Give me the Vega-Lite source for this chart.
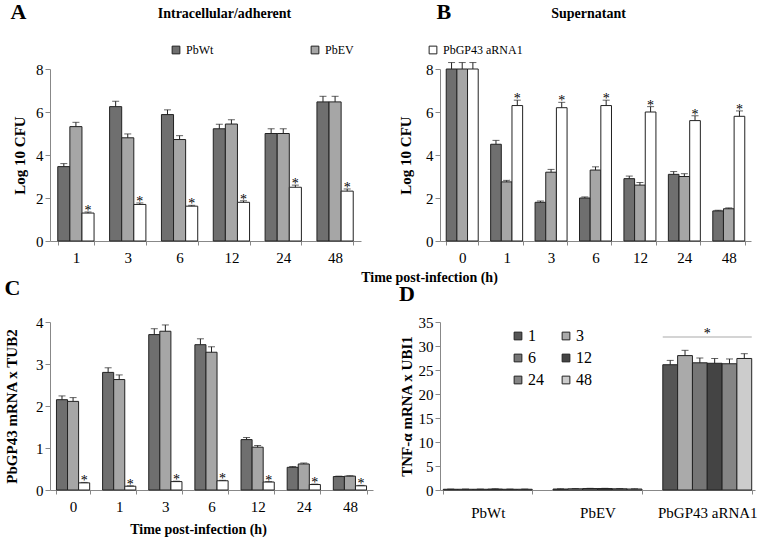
{
  "$schema": "https://vega.github.io/schema/vega-lite/v6.json",
  "padding": {"left": 4, "top": 1, "right": 5, "bottom": 5},
  "background": "#ffffff",
  "config": {
    "font": "Liberation Serif",
    "view": {"stroke": null},
    "axis": {"labelFont": "Liberation Serif", "labelFontSize": 15, "labelColor": "#000", "titleFont": "Liberation Serif", "titleFontSize": 15, "titleFontWeight": "bold", "titleColor": "#000", "grid": false, "domainColor": "#888", "tickColor": "#888", "tickSize": 5},
    "axisX": {"labelAngle": 0, "tickBand": "extent", "labelPadding": 5, "tickSize": 4},
    "axisY": {"labelOverlap": false, "tickCount": 8},
    "legend": {"labelFont": "Liberation Serif", "labelColor": "#000", "symbolType": "square", "symbolStrokeColor": "#222", "symbolStrokeWidth": 1, "title": null},
    "title": {"font": "Liberation Serif", "fontWeight": "bold", "color": "#000", "fontSize": 22}
  },
  "datasets": {
    "A": [
      {"t": "1", "s": "PbWt", "v": 3.46, "e": 3.6, "sig": ""},
      {"t": "1", "s": "PbEV", "v": 5.32, "e": 5.52, "sig": ""},
      {"t": "1", "s": "PbGP43 aRNA1", "v": 1.3, "e": 1.35, "sig": "*"},
      {"t": "3", "s": "PbWt", "v": 6.25, "e": 6.5, "sig": ""},
      {"t": "3", "s": "PbEV", "v": 4.8, "e": 4.98, "sig": ""},
      {"t": "3", "s": "PbGP43 aRNA1", "v": 1.7, "e": 1.77, "sig": "*"},
      {"t": "6", "s": "PbWt", "v": 5.88, "e": 6.1, "sig": ""},
      {"t": "6", "s": "PbEV", "v": 4.72, "e": 4.9, "sig": ""},
      {"t": "6", "s": "PbGP43 aRNA1", "v": 1.62, "e": 1.66, "sig": "*"},
      {"t": "12", "s": "PbWt", "v": 5.22, "e": 5.43, "sig": ""},
      {"t": "12", "s": "PbEV", "v": 5.44, "e": 5.64, "sig": ""},
      {"t": "12", "s": "PbGP43 aRNA1", "v": 1.8, "e": 1.87, "sig": "*"},
      {"t": "24", "s": "PbWt", "v": 5.0, "e": 5.22, "sig": ""},
      {"t": "24", "s": "PbEV", "v": 5.0, "e": 5.22, "sig": ""},
      {"t": "24", "s": "PbGP43 aRNA1", "v": 2.5, "e": 2.6, "sig": "*"},
      {"t": "48", "s": "PbWt", "v": 6.47, "e": 6.73, "sig": ""},
      {"t": "48", "s": "PbEV", "v": 6.47, "e": 6.73, "sig": ""},
      {"t": "48", "s": "PbGP43 aRNA1", "v": 2.32, "e": 2.42, "sig": "*"}
    ],
    "B": [
      {"t": "0", "s": "PbWt", "v": 8.0, "e": 8.3, "sig": ""},
      {"t": "0", "s": "PbEV", "v": 8.0, "e": 8.3, "sig": ""},
      {"t": "0", "s": "PbGP43 aRNA1", "v": 8.0, "e": 8.3, "sig": ""},
      {"t": "1", "s": "PbWt", "v": 4.5, "e": 4.68, "sig": ""},
      {"t": "1", "s": "PbEV", "v": 2.75, "e": 2.82, "sig": ""},
      {"t": "1", "s": "PbGP43 aRNA1", "v": 6.3, "e": 6.55, "sig": "*"},
      {"t": "3", "s": "PbWt", "v": 1.8, "e": 1.86, "sig": ""},
      {"t": "3", "s": "PbEV", "v": 3.2, "e": 3.33, "sig": ""},
      {"t": "3", "s": "PbGP43 aRNA1", "v": 6.2, "e": 6.45, "sig": "*"},
      {"t": "6", "s": "PbWt", "v": 2.0, "e": 2.05, "sig": ""},
      {"t": "6", "s": "PbEV", "v": 3.3, "e": 3.45, "sig": ""},
      {"t": "6", "s": "PbGP43 aRNA1", "v": 6.3, "e": 6.55, "sig": "*"},
      {"t": "12", "s": "PbWt", "v": 2.9, "e": 3.02, "sig": ""},
      {"t": "12", "s": "PbEV", "v": 2.6, "e": 2.72, "sig": ""},
      {"t": "12", "s": "PbGP43 aRNA1", "v": 6.0, "e": 6.25, "sig": "*"},
      {"t": "24", "s": "PbWt", "v": 3.1, "e": 3.23, "sig": ""},
      {"t": "24", "s": "PbEV", "v": 3.0, "e": 3.13, "sig": ""},
      {"t": "24", "s": "PbGP43 aRNA1", "v": 5.6, "e": 5.82, "sig": "*"},
      {"t": "48", "s": "PbWt", "v": 1.4, "e": 1.43, "sig": ""},
      {"t": "48", "s": "PbEV", "v": 1.5, "e": 1.54, "sig": ""},
      {"t": "48", "s": "PbGP43 aRNA1", "v": 5.8, "e": 6.05, "sig": "*"}
    ],
    "C": [
      {"t": "0", "s": "PbWt", "v": 2.15, "e": 2.24, "sig": ""},
      {"t": "0", "s": "PbEV", "v": 2.11, "e": 2.2, "sig": ""},
      {"t": "0", "s": "PbGP43 aRNA1", "v": 0.17, "e": 0.18, "sig": "*"},
      {"t": "1", "s": "PbWt", "v": 2.8, "e": 2.91, "sig": ""},
      {"t": "1", "s": "PbEV", "v": 2.63, "e": 2.74, "sig": ""},
      {"t": "1", "s": "PbGP43 aRNA1", "v": 0.09, "e": 0.1, "sig": "*"},
      {"t": "3", "s": "PbWt", "v": 3.7, "e": 3.84, "sig": ""},
      {"t": "3", "s": "PbEV", "v": 3.78, "e": 3.93, "sig": ""},
      {"t": "3", "s": "PbGP43 aRNA1", "v": 0.2, "e": 0.21, "sig": "*"},
      {"t": "6", "s": "PbWt", "v": 3.46, "e": 3.6, "sig": ""},
      {"t": "6", "s": "PbEV", "v": 3.28, "e": 3.41, "sig": ""},
      {"t": "6", "s": "PbGP43 aRNA1", "v": 0.22, "e": 0.23, "sig": "*"},
      {"t": "12", "s": "PbWt", "v": 1.2, "e": 1.25, "sig": ""},
      {"t": "12", "s": "PbEV", "v": 1.02, "e": 1.06, "sig": ""},
      {"t": "12", "s": "PbGP43 aRNA1", "v": 0.19, "e": 0.2, "sig": "*"},
      {"t": "24", "s": "PbWt", "v": 0.54, "e": 0.56, "sig": ""},
      {"t": "24", "s": "PbEV", "v": 0.62, "e": 0.64, "sig": ""},
      {"t": "24", "s": "PbGP43 aRNA1", "v": 0.13, "e": 0.14, "sig": "*"},
      {"t": "48", "s": "PbWt", "v": 0.32, "e": 0.33, "sig": ""},
      {"t": "48", "s": "PbEV", "v": 0.33, "e": 0.34, "sig": ""},
      {"t": "48", "s": "PbGP43 aRNA1", "v": 0.1, "e": 0.11, "sig": "*"}
    ],
    "D": [
      {"g": "PbWt", "t": "1", "v": 0.15, "e": 0.2},
      {"g": "PbWt", "t": "3", "v": 0.15, "e": 0.2},
      {"g": "PbWt", "t": "6", "v": 0.15, "e": 0.2},
      {"g": "PbWt", "t": "12", "v": 0.2, "e": 0.25},
      {"g": "PbWt", "t": "24", "v": 0.15, "e": 0.2},
      {"g": "PbWt", "t": "48", "v": 0.15, "e": 0.2},
      {"g": "PbEV", "t": "1", "v": 0.2, "e": 0.25},
      {"g": "PbEV", "t": "3", "v": 0.25, "e": 0.3},
      {"g": "PbEV", "t": "6", "v": 0.3, "e": 0.35},
      {"g": "PbEV", "t": "12", "v": 0.3, "e": 0.35},
      {"g": "PbEV", "t": "24", "v": 0.25, "e": 0.3},
      {"g": "PbEV", "t": "48", "v": 0.2, "e": 0.25},
      {"g": "PbGP43 aRNA1", "t": "1", "v": 26.1, "e": 27.0},
      {"g": "PbGP43 aRNA1", "t": "3", "v": 28.0, "e": 29.1},
      {"g": "PbGP43 aRNA1", "t": "6", "v": 26.5, "e": 27.5},
      {"g": "PbGP43 aRNA1", "t": "12", "v": 26.4, "e": 27.4},
      {"g": "PbGP43 aRNA1", "t": "24", "v": 26.3, "e": 27.3},
      {"g": "PbGP43 aRNA1", "t": "48", "v": 27.4, "e": 28.4}
    ],
    "Dsig": [
      {"g": "PbGP43 aRNA1", "y": 31.9, "star": "*"}
    ]
  },
  "columns": 2,
  "bounds": "flush",
  "spacing": {"row": 81, "column": 67},
  "resolve": {"scale": {"color": "independent", "x": "independent", "y": "independent", "xOffset": "independent"}, "legend": {"color": "independent"}},
  "concat": [
    {
      "width": 311,
      "height": 172,
      "data": {"name": "A"},
      "title": {"text": "A", "anchor": "start", "frame": "bounds", "offset": -18, "dx": -2},
      "resolve": {"axis": {"x": "independent"}},
      "layer": [
        {
          "mark": {"type": "bar", "stroke": "#222", "strokeWidth": 1},
          "encoding": {
            "x": {"field": "t", "type": "ordinal", "sort": ["1", "3", "6", "12", "24", "48"], "scale": {"paddingInner": 0.3, "paddingOuter": 0.15}, "axis": {"title": "Time post-infection (h)", "titleX": 379, "titleFontSize": 14, "titlePadding": 5}},
            "xOffset": {"field": "s", "type": "nominal", "sort": ["PbWt", "PbEV", "PbGP43 aRNA1"], "scale": {"paddingInner": 0, "paddingOuter": 0}},
            "y": {"field": "v", "type": "quantitative", "scale": {"domain": [0, 8]}, "axis": {"title": "Log 10 CFU", "values": [0, 1, 2, 3, 4, 5, 6, 7, 8], "titlePadding": 8}},
            "color": {"field": "s", "type": "nominal", "scale": {"domain": ["PbWt", "PbEV", "PbGP43 aRNA1"], "range": ["#6f6f6f", "#a6a6a6", "#ffffff"]}, "legend": {"values": ["PbWt", "PbEV"], "orient": "none", "legendX": 120, "legendY": -25, "direction": "horizontal", "columnPadding": 95, "labelFontSize": 12, "symbolSize": 60}}
          }
        },
        {
          "mark": {"type": "rule", "color": "#222"},
          "encoding": {
            "x": {"field": "t", "type": "ordinal", "sort": ["1", "3", "6", "12", "24", "48"], "axis": {"orient": "top", "labels": false, "ticks": false, "domain": false, "title": "Intracellular/adherent", "titleFontSize": 14, "titleX": 174, "titleY": -49}},
            "xOffset": {"field": "s", "type": "nominal", "sort": ["PbWt", "PbEV", "PbGP43 aRNA1"]},
            "y": {"field": "v", "type": "quantitative"},
            "y2": {"field": "e"}
          }
        },
        {
          "mark": {"type": "tick", "orient": "horizontal", "size": 7, "thickness": 1, "color": "#222"},
          "encoding": {
            "x": {"field": "t", "type": "ordinal", "sort": ["1", "3", "6", "12", "24", "48"], "axis": null},
            "xOffset": {"field": "s", "type": "nominal", "sort": ["PbWt", "PbEV", "PbGP43 aRNA1"]},
            "y": {"field": "e", "type": "quantitative"}
          }
        },
        {
          "mark": {"type": "text", "fontSize": 14, "baseline": "alphabetic", "dy": 3, "color": "#000"},
          "encoding": {
            "x": {"field": "t", "type": "ordinal", "sort": ["1", "3", "6", "12", "24", "48"], "axis": null},
            "xOffset": {"field": "s", "type": "nominal", "sort": ["PbWt", "PbEV", "PbGP43 aRNA1"]},
            "y": {"field": "e", "type": "quantitative"},
            "text": {"field": "sig"}
          }
        }
      ]
    },
    {
      "width": 311,
      "height": 172,
      "data": {"name": "B"},
      "title": {"text": "B", "anchor": "start", "frame": "bounds", "offset": -18, "dx": 38},
      "resolve": {"axis": {"x": "independent"}},
      "layer": [
        {
          "mark": {"type": "bar", "stroke": "#222", "strokeWidth": 1},
          "encoding": {
            "x": {"field": "t", "type": "ordinal", "sort": ["0", "1", "3", "6", "12", "24", "48"], "scale": {"paddingInner": 0.28, "paddingOuter": 0.14}, "axis": {"title": null}},
            "xOffset": {"field": "s", "type": "nominal", "sort": ["PbWt", "PbEV", "PbGP43 aRNA1"], "scale": {"paddingInner": 0, "paddingOuter": 0}},
            "y": {"field": "v", "type": "quantitative", "scale": {"domain": [0, 8]}, "axis": {"title": "Log 10 CFU", "values": [0, 1, 2, 3, 4, 5, 6, 7, 8], "titlePadding": 12}},
            "color": {"field": "s", "type": "nominal", "scale": {"domain": ["PbWt", "PbEV", "PbGP43 aRNA1"], "range": ["#6f6f6f", "#a6a6a6", "#ffffff"]}, "legend": {"values": ["PbGP43 aRNA1"], "orient": "none", "legendX": -13, "legendY": -25, "direction": "horizontal", "labelFontSize": 12, "symbolSize": 60}}
          }
        },
        {
          "mark": {"type": "rule", "color": "#222"},
          "encoding": {
            "x": {"field": "t", "type": "ordinal", "sort": ["0", "1", "3", "6", "12", "24", "48"], "axis": {"orient": "top", "labels": false, "ticks": false, "domain": false, "title": "Supernatant", "titleFontSize": 14, "titleX": 148, "titleY": -49}},
            "xOffset": {"field": "s", "type": "nominal", "sort": ["PbWt", "PbEV", "PbGP43 aRNA1"]},
            "y": {"field": "v", "type": "quantitative"},
            "y2": {"field": "e"}
          }
        },
        {
          "mark": {"type": "tick", "orient": "horizontal", "size": 7, "thickness": 1, "color": "#222"},
          "encoding": {
            "x": {"field": "t", "type": "ordinal", "sort": ["0", "1", "3", "6", "12", "24", "48"], "axis": null},
            "xOffset": {"field": "s", "type": "nominal", "sort": ["PbWt", "PbEV", "PbGP43 aRNA1"]},
            "y": {"field": "e", "type": "quantitative"}
          }
        },
        {
          "mark": {"type": "text", "fontSize": 14, "baseline": "alphabetic", "dy": 3, "color": "#000"},
          "encoding": {
            "x": {"field": "t", "type": "ordinal", "sort": ["0", "1", "3", "6", "12", "24", "48"], "axis": null},
            "xOffset": {"field": "s", "type": "nominal", "sort": ["PbWt", "PbEV", "PbGP43 aRNA1"]},
            "y": {"field": "e", "type": "quantitative"},
            "text": {"field": "sig"}
          }
        }
      ]
    },
    {
      "width": 323,
      "height": 168,
      "data": {"name": "C"},
      "title": {"text": "C", "anchor": "start", "frame": "bounds", "offset": 15},
      "encoding": {
        "x": {"field": "t", "type": "ordinal", "sort": ["0", "1", "3", "6", "12", "24", "48"], "scale": {"paddingInner": 0.28, "paddingOuter": 0.14}, "axis": {"title": "Time post-infection (h)", "titleFontSize": 14, "titleX": 148, "titlePadding": 8}},
        "xOffset": {"field": "s", "type": "nominal", "sort": ["PbWt", "PbEV", "PbGP43 aRNA1"], "scale": {"paddingInner": 0, "paddingOuter": 0}}
      },
      "layer": [
        {
          "mark": {"type": "bar", "stroke": "#222", "strokeWidth": 1},
          "encoding": {
            "y": {"field": "v", "type": "quantitative", "scale": {"domain": [0, 4]}, "axis": {"title": "PbGP43 mRNA x TUB2", "values": [0, 0.5, 1, 1.5, 2, 2.5, 3, 3.5, 4], "labelExpr": "'' + datum.value", "titlePadding": 16}},
            "color": {"field": "s", "type": "nominal", "scale": {"domain": ["PbWt", "PbEV", "PbGP43 aRNA1"], "range": ["#6f6f6f", "#a6a6a6", "#ffffff"]}, "legend": null}
          }
        },
        {"mark": {"type": "rule", "color": "#222"}, "encoding": {"y": {"field": "v", "type": "quantitative"}, "y2": {"field": "e"}}},
        {"mark": {"type": "tick", "orient": "horizontal", "size": 7, "thickness": 1, "color": "#222"}, "encoding": {"y": {"field": "e", "type": "quantitative"}}},
        {"mark": {"type": "text", "fontSize": 14, "baseline": "alphabetic", "dy": 3, "color": "#000"}, "encoding": {"y": {"field": "e", "type": "quantitative"}, "text": {"field": "sig"}}}
      ]
    },
    {
      "width": 315,
      "height": 168,
      "title": {"text": "D", "anchor": "start", "frame": "bounds", "offset": 9},
      "layer": [
        {
          "data": {"name": "D"},
          "mark": {"type": "bar", "stroke": "#222", "strokeWidth": 1},
          "encoding": {
            "x": {"field": "g", "type": "nominal", "sort": ["PbWt", "PbEV", "PbGP43 aRNA1"], "scale": {"paddingInner": 0.19, "paddingOuter": 0.03}, "axis": {"title": null, "labelPadding": 11}},
            "xOffset": {"field": "t", "type": "nominal", "sort": ["1", "3", "6", "12", "24", "48"], "scale": {"paddingInner": 0, "paddingOuter": 0}},
            "y": {"field": "v", "type": "quantitative", "scale": {"domain": [0, 35]}, "axis": {"title": "TNF-α mRNA x UBI1", "values": [0, 5, 10, 15, 20, 25, 30, 35], "titlePadding": 4}},
            "color": {"field": "t", "type": "nominal", "sort": ["1", "3", "6", "12", "24", "48"], "scale": {"domain": ["1", "3", "6", "12", "24", "48"], "range": ["#555555", "#aaaaaa", "#767676", "#444444", "#858585", "#cccccc"]}, "legend": {"orient": "none", "legendX": 70, "legendY": 6, "columns": 2, "direction": "horizontal", "columnPadding": 14, "rowPadding": 6, "labelFontSize": 16, "labelOffset": 2, "symbolSize": 60}}
          }
        },
        {
          "data": {"name": "D"},
          "mark": {"type": "rule", "color": "#222"},
          "encoding": {
            "x": {"field": "g", "type": "nominal", "sort": ["PbWt", "PbEV", "PbGP43 aRNA1"]},
            "xOffset": {"field": "t", "type": "nominal", "sort": ["1", "3", "6", "12", "24", "48"]},
            "y": {"field": "v", "type": "quantitative"},
            "y2": {"field": "e"}
          }
        },
        {
          "data": {"name": "D"},
          "mark": {"type": "tick", "orient": "horizontal", "size": 7, "thickness": 1, "color": "#222"},
          "encoding": {
            "x": {"field": "g", "type": "nominal", "sort": ["PbWt", "PbEV", "PbGP43 aRNA1"]},
            "xOffset": {"field": "t", "type": "nominal", "sort": ["1", "3", "6", "12", "24", "48"]},
            "y": {"field": "e", "type": "quantitative"}
          }
        },
        {
          "data": {"name": "Dsig"},
          "mark": {"type": "tick", "orient": "horizontal", "size": 89, "thickness": 1, "color": "#888"},
          "encoding": {
            "x": {"field": "g", "type": "nominal", "sort": ["PbWt", "PbEV", "PbGP43 aRNA1"]},
            "y": {"field": "y", "type": "quantitative"}
          }
        },
        {
          "data": {"name": "Dsig"},
          "mark": {"type": "text", "fontSize": 14, "baseline": "alphabetic", "dy": 1, "color": "#000"},
          "encoding": {
            "x": {"field": "g", "type": "nominal", "sort": ["PbWt", "PbEV", "PbGP43 aRNA1"]},
            "y": {"field": "y", "type": "quantitative"},
            "text": {"field": "star"}
          }
        }
      ]
    }
  ]
}
